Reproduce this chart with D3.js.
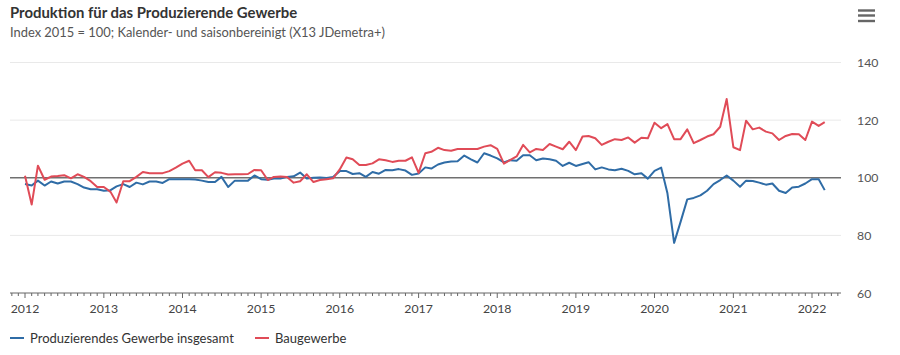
<!DOCTYPE html>
<html><head><meta charset="utf-8">
<script src="https://cdn.jsdelivr.net/npm/d3@7"></script>
<style>
html,body{margin:0;padding:0;background:#fff;}
svg{display:block;font-family:Lato,"Noto Sans",sans-serif;}
</style></head>
<body><svg id="c" width="900" height="355"></svg>
<script>
const title = "Produktion für das Produzierende Gewerbe";
const subtitle = "Index 2015 = 100; Kalender- und saisonbereinigt (X13 JDemetra+)";
const seriesNames = ["Produzierendes Gewerbe insgesamt", "Baugewerbe"];
const startYear = 2012, startMonth = 0; // Jan 2012, monthly
const yTicks = [60, 80, 100, 120, 140];
const xTickYears = [2012,2013,2014,2015,2016,2017,2018,2019,2020,2021,2022];

const produzierend = [
 97.8,97.3,99.0,97.3,98.7,98.0,98.7,98.7,97.8,96.6,96.0,96.0,
 95.5,95.7,97.0,97.8,96.8,98.3,97.7,98.7,98.7,98.2,99.5,99.5,
 99.5,99.5,99.4,99.0,98.5,98.5,100.3,96.8,99.0,99.0,99.0,100.8,
 99.5,99.3,99.7,99.7,100.3,100.5,101.8,99.7,100.0,100.1,99.9,100.3,
 102.3,102.3,101.3,101.6,100.3,102.0,101.4,102.7,102.6,103.0,102.5,101.0,
 101.5,103.6,103.2,104.6,105.3,105.6,105.7,107.7,106.4,105.3,108.5,107.7,
 106.7,105.3,106.1,105.9,107.8,107.8,106.1,106.7,106.4,105.9,104.1,105.2,
 104.1,104.8,105.4,102.9,103.6,102.9,102.6,103.1,102.4,101.2,101.6,99.7,
 102.4,103.5,94.6,77.4,84.7,92.5,93.0,93.9,95.5,97.8,99.2,100.8,
 99.0,96.9,99.0,98.9,98.3,97.6,98.0,95.5,94.7,96.6,96.9,98.0,
 99.5,99.5,95.7
];
const baugewerbe = [
 100.7,90.7,104.2,99.3,100.4,100.6,100.9,99.8,101.2,100.3,98.8,96.8,
 96.8,95.1,91.4,98.8,98.8,100.3,102.0,101.6,101.6,101.6,102.3,103.5,
 104.9,105.9,102.6,102.6,100.2,101.9,101.7,101.1,101.2,101.2,101.3,102.7,
 102.6,99.2,100.3,100.4,100.3,98.3,98.8,101.2,98.5,99.2,99.5,99.8,
 102.9,107.0,106.4,104.4,104.4,105.0,106.4,106.1,105.5,105.9,105.9,107.1,
 101.7,108.5,109.0,110.4,109.6,109.4,110.0,110.0,110.0,110.0,110.8,111.3,
 110.0,104.9,106.1,107.4,111.4,108.8,110.0,109.6,111.7,110.8,109.9,112.5,
 109.6,114.3,114.5,113.7,111.4,112.5,113.4,113.1,114.0,112.2,113.9,113.7,
 119.1,117.2,118.6,113.4,113.4,116.8,112.0,113.1,114.3,115.1,117.7,127.3,
 110.6,109.6,119.8,116.8,117.4,116.0,115.4,113.1,114.5,115.2,115.1,113.1,
 119.5,118.0,119.3
];
const colors = ["#2f6ca6", "#e04b57"];

const svg = d3.select("#c");
const dates = produzierend.map((_, i) => new Date(startYear, startMonth + i, 1));

const x = d3.scaleTime().domain([new Date(2012,0,1), new Date(2022,0,1)]).range([25, 812]);
const y = d3.scaleLinear().domain([60, 140]).range([293, 62.5]);
const plotL = 10, plotR = 841;

// title
svg.append("text").attr("x", 10).attr("y", 18).attr("font-size", 14.9).attr("font-weight", 700)
  .attr("fill", "#333").text(title);
svg.append("text").attr("x", 10).attr("y", 37).attr("font-size", 12.9).attr("fill", "#555").text(subtitle);

// menu icon
[10.5, 15.5, 21].forEach(v => svg.append("rect").attr("x", 858).attr("y", v - 1.2).attr("width", 17).attr("height", 2.4).attr("fill", "#666"));

// gridlines
const g = svg.append("g");
yTicks.filter(v => v !== 60 && v !== 100).forEach(v => {
  g.append("line").attr("x1", plotL).attr("x2", plotR).attr("y1", y(v)).attr("y2", y(v))
    .attr("stroke", "#e9e9e9").attr("stroke-width", 1);
});
// y labels
yTicks.forEach(v => {
  svg.append("text").attr("x", 857).attr("y", y(v) + 4.5).attr("font-size", 12.3).attr("fill", "#555").text(v);
});

// x axis
svg.append("line").attr("x1", plotL).attr("x2", plotR).attr("y1", y(60)).attr("y2", y(60))
  .attr("stroke", "#666").attr("stroke-width", 1);
const months = d3.timeMonth.range(new Date(2011,9,1), new Date(2022,7,1)).filter(d => x(d) >= plotL && x(d) <= plotR);
months.forEach(d => {
  const major = d.getMonth() === 0;
  svg.append("line").attr("x1", x(d)).attr("x2", x(d)).attr("y1", y(60)).attr("y2", y(60) + (major ? 5 : 3))
    .attr("stroke", "#666").attr("stroke-width", 1);
});
xTickYears.forEach(yr => {
  svg.append("text").attr("x", x(new Date(yr,0,1))).attr("y", 313).attr("text-anchor", "middle")
    .attr("font-size", 12.3).attr("fill", "#444").text(yr);
});

// reference line at 100
svg.append("line").attr("x1", plotL).attr("x2", plotR).attr("y1", y(100)).attr("y2", y(100))
  .attr("stroke", "#707070").attr("stroke-width", 1.5);

// lines
const line = d3.line().x((d, i) => x(dates[i])).y(d => y(d));
[produzierend, baugewerbe].forEach((s, k) => {
  svg.append("path").attr("d", line(s)).attr("fill", "none").attr("stroke", colors[k])
    .attr("stroke-width", 2).attr("stroke-linejoin", "round");
});

// legend
const legX = [10, 255];
seriesNames.forEach((n, k) => {
  svg.append("line").attr("x1", legX[k]).attr("x2", legX[k] + 14).attr("y1", 338).attr("y2", 338)
    .attr("stroke", colors[k]).attr("stroke-width", 2);
  svg.append("text").attr("x", legX[k] + 20).attr("y", 342.5).attr("font-size", 13).attr("fill", "#333").text(n);
});
</script></body></html>
